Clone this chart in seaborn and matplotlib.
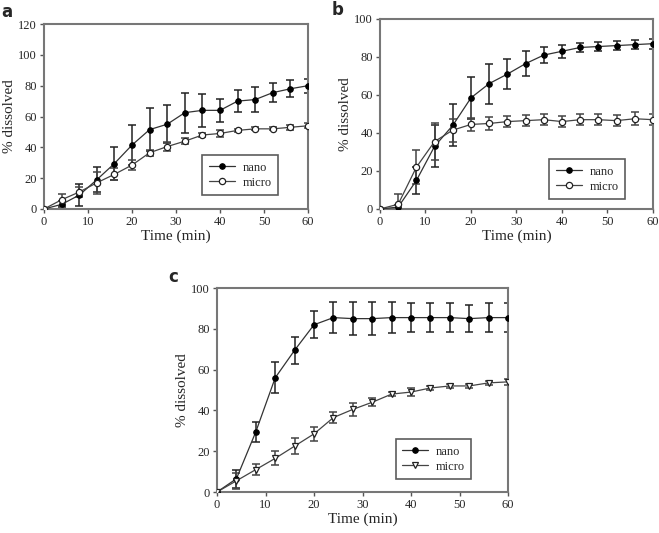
import numpy as np
import pandas as pd
import matplotlib
matplotlib.use("Agg")
import matplotlib.pyplot as plt
import seaborn as sns

# --- veriler ---
time_min = [0, 4, 8, 12, 16, 20, 24, 28, 32, 36, 40, 44, 48, 52, 56, 60]

a_nano = [0, 3, 9, 19, 29.5, 41.5, 51.5, 55, 62.5, 64, 64, 70, 71, 75.5, 78, 80]
a_nano_err = [0, 2, 7, 8, 11, 13, 14, 12.5, 13, 10.5, 7.5, 7, 8, 6, 5.5, 4.5]
a_micro = [0, 6, 11, 17, 22.5, 28.5, 36.5, 40.5, 44, 48, 49, 51, 52, 52, 53, 54]
a_micro_err = [0, 4, 3, 7, 4, 3.5, 2, 3, 2, 1, 2, 1, 1, 1, 1.5, 1.5]

b_nano = [0, 1, 15, 33, 44, 58.5, 66, 71, 76.5, 81, 83, 85, 85.5, 86, 86.5, 87]
b_nano_err = [0, 1, 7, 11, 11, 11, 10.5, 8, 6.5, 4, 3.5, 2.5, 2.5, 2.5, 2.5, 2.7]
b_micro = [0, 2.5, 22, 35.5, 41.5, 44.5, 45, 46, 46.5, 47, 46, 47, 47, 46.5, 47.5, 47]
b_micro_err = [0, 5.5, 9, 9.5, 6, 3.5, 3.5, 3, 3, 3, 3, 3, 3, 3, 3.5, 3]

c_nano = [0, 6.5, 29.5, 56, 69.5, 82, 85.5, 85, 85, 85.5, 85.5, 85.5, 85.5, 85, 85.5, 85.5]
c_nano_err = [0, 4.5, 5, 7.5, 6.5, 6.5, 7.5, 8, 8, 7.5, 7, 7, 7, 6.5, 7, 7]
c_micro = [0, 5.5, 11, 16.5, 22.5, 28.5, 36.5, 40.5, 44, 48, 49, 51, 52, 52, 53.5, 54]
c_micro_err = [0, 4, 2.5, 3.5, 4, 3.5, 2.5, 3, 2, 1, 2, 1, 1, 1, 1, 1.5]

x_ticks = [0, 10, 20, 30, 40, 50, 60]

sns.set_theme(style="white")
plt.rcParams['font.family'] = ['Liberation Serif', 'DejaVu Serif']

fig = plt.figure(figsize=(6.59, 5.33), dpi=100)
ax_a = fig.add_axes([0.0668, 0.6079, 0.4006, 0.347])
ax_b = fig.add_axes([0.5766, 0.6079, 0.4143, 0.3565])
ax_c = fig.add_axes([0.3293, 0.0769, 0.4416, 0.3827])


def panel(ax, nano, nano_err, micro, micro_err, micro_marker, ymax, ystep, leg_xy):
    df = pd.DataFrame({
        "t": time_min * 2,
        "val": nano + micro,
        "seri": ["nano"] * len(time_min) + ["micro"] * len(time_min),
    })
    # hata çubukları
    ax.errorbar(time_min, nano, yerr=nano_err, fmt="none", ecolor="#222222",
                elinewidth=1.1, capsize=3, capthick=1.1, zorder=2)
    ax.errorbar(time_min, micro, yerr=micro_err, fmt="none", ecolor="#444444",
                elinewidth=1.1, capsize=3, capthick=1.1, zorder=2)
    sns.lineplot(data=df[df.seri == "nano"], x="t", y="val", ax=ax, color="#333333",
                 lw=0.9, marker="o", markersize=4, markerfacecolor="black",
                 markeredgecolor="black", label="nano", zorder=3)
    sns.lineplot(data=df[df.seri == "micro"], x="t", y="val", ax=ax, color="#444444",
                 lw=0.9, marker=micro_marker, markersize=4.5, markerfacecolor="white",
                 markeredgecolor="#222222", markeredgewidth=0.9, label="micro", zorder=3)
    ax.set_xlim(0, 60)
    ax.set_ylim(0, ymax)
    ax.set_xticks(x_ticks)
    ax.set_yticks(np.arange(0, ymax + 1, ystep))
    ax.set_xlabel("Time (min)", fontsize=11, labelpad=1)
    ax.set_ylabel("% dissolved", fontsize=11, labelpad=2)
    ax.tick_params(axis="both", labelsize=9, direction="out", length=3, width=1,
                   color="#555555", pad=2, bottom=True, left=True)
    for s in ax.spines.values():
        s.set_color("#777777")
        s.set_linewidth(1.5)
    leg = ax.legend(loc="lower left", bbox_to_anchor=leg_xy, fontsize=9,
                    frameon=True, fancybox=False, handlelength=2.1,
                    handletextpad=0.6, borderaxespad=0,
                    borderpad=0.5, labelspacing=0.25)
    leg.get_frame().set_edgecolor("#333333")
    leg.get_frame().set_linewidth(1.2)


panel(ax_a, a_nano, a_nano_err, a_micro, a_micro_err, "o", 120, 20, (0.60, 0.076))
panel(ax_b, b_nano, b_nano_err, b_micro, b_micro_err, "o", 100, 20, (0.62, 0.053))
panel(ax_c, c_nano, c_nano_err, c_micro, c_micro_err, "v", 100, 20, (0.615, 0.064))

# panel harfleri
for txt, x, y in [("a", 0.002, 0.995), ("b", 0.503, 0.998), ("c", 0.256, 0.497)]:
    fig.text(x, y, txt, fontsize=12, fontweight="bold", family="DejaVu Sans",
             ha="left", va="top")

fig.savefig("out.png", dpi=100)
